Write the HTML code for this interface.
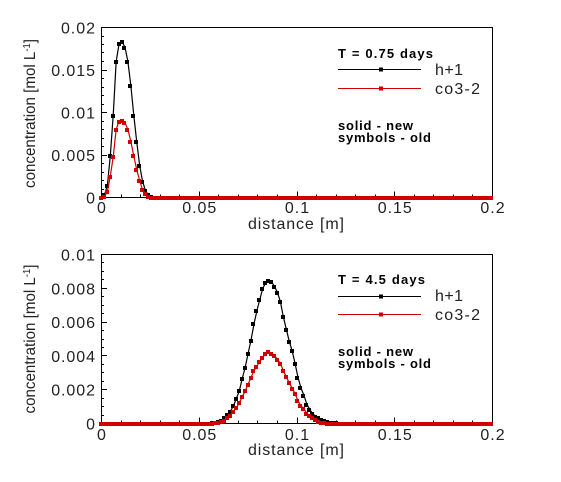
<!DOCTYPE html>
<html>
<head>
<meta charset="utf-8">
<style>
html,body{margin:0;padding:0;background:#fff;}
svg{display:block;}
text{font-family:"Liberation Sans",Arial,sans-serif;fill:#222;}
.bold{font-weight:bold;fill:#000;}
</style>
</head>
<body>
<svg id="chart" width="561" height="482" viewBox="0 0 561 482" xmlns="http://www.w3.org/2000/svg"></svg>
<script>
const distance = [
0,0.0015,0.003,0.0045,0.006,0.0075,0.009,0.0105,0.012,0.0135,
0.015,0.0165,0.018,0.0195,0.021,0.0225,0.024,0.0255,0.027,0.0285,
0.03,0.0315,0.033,0.0345,0.036,0.0375,0.039,0.0405,0.042,0.0435,
0.045,0.0465,0.048,0.0495,0.051,0.0525,0.054,0.0555,0.057,0.0585,
0.06,0.0615,0.063,0.0645,0.066,0.0675,0.069,0.0705,0.072,0.0735,
0.075,0.0765,0.078,0.0795,0.081,0.0825,0.084,0.0855,0.087,0.0885,
0.09,0.0915,0.093,0.0945,0.096,0.0975,0.099,0.1005,0.102,0.1035,
0.105,0.1065,0.108,0.1095,0.111,0.1125,0.114,0.1155,0.117,0.1185,
0.12,0.1215,0.123,0.1245,0.126,0.1275,0.129,0.1305,0.132,0.1335,
0.135,0.1365,0.138,0.1395,0.141,0.1425,0.144,0.1455,0.147,0.1485,
0.15,0.1515,0.153,0.1545,0.156,0.1575,0.159,0.1605,0.162,0.1635,
0.165,0.1665,0.168,0.1695,0.171,0.1725,0.174,0.1755,0.177,0.1785,
0.18,0.1815,0.183,0.1845,0.186,0.1875,0.189,0.1905,0.192,0.1935,
0.195,0.1965,0.198,0.1995];

const earlyH1 = [
0,0.0003,0.0014,0.0049,0.0097,0.016,0.0181,0.0183,0.0177,0.016,
0.0132,0.0097,0.0066,0.0038,0.0019,0.0008,0.0003,0.0001,0,0,
0,0,0,0,0,0,0,0,0,0, 0,0,0,0,0,0,0,0,0,0,
0,0,0,0,0,0,0,0,0,0, 0,0,0,0,0,0,0,0,0,0,
0,0,0,0,0,0,0,0,0,0, 0,0,0,0,0,0,0,0,0,0,
0,0,0,0,0,0,0,0,0,0, 0,0,0,0,0,0,0,0,0,0,
0,0,0,0,0,0,0,0,0,0, 0,0,0,0,0,0,0,0,0,0,
0,0,0,0,0,0,0,0,0,0, 0,0,0,0];

const earlyCo3 = [
0,0.0001,0.0007,0.0025,0.0048,0.008,0.009,0.0091,0.0088,0.008,
0.0066,0.0049,0.0033,0.002,0.0009,0.0005,0.0001,0,0,0,
0,0,0,0,0,0,0,0,0,0, 0,0,0,0,0,0,0,0,0,0,
0,0,0,0,0,0,0,0,0,0, 0,0,0,0,0,0,0,0,0,0,
0,0,0,0,0,0,0,0,0,0, 0,0,0,0,0,0,0,0,0,0,
0,0,0,0,0,0,0,0,0,0, 0,0,0,0,0,0,0,0,0,0,
0,0,0,0,0,0,0,0,0,0, 0,0,0,0,0,0,0,0,0,0,
0,0,0,0,0,0,0,0,0,0, 0,0,0,0];

const lateH1 = [
0,0,0,0,0,0,0,0,0,0, 0,0,0,0,0,0,0,0,0,0, 0,0,0,0,0,0,0,0,0,0,
0,0,0,0,0,0,0.00002,0.00002,0.00004,0.00006,
0.00012,0.0002,0.00034,0.00053,0.00073,0.00105,0.00148,0.00194,0.00267,0.00332,
0.00415,0.00494,0.00589,0.00668,0.00735,0.008,0.00833,0.00845,0.00839,0.0081,
0.00776,0.00721,0.00632,0.00559,0.00488,0.00431,0.00356,0.00273,0.00211,0.00168,
0.00115,0.00083,0.00059,0.00043,0.00034,0.00026,0.00016,0.00012,0.00008,0.00006,
0.00004,0.00002,0,0,0,0,0,0,0,0,
0,0,0,0,0,0,0,0,0,0, 0,0,0,0,0,0,0,0,0,0,
0,0,0,0,0,0,0,0,0,0, 0,0,0,0,0,0,0,0,0,0,
0,0,0,0];

const lateCo3 = [
0,0,0,0,0,0,0,0,0,0, 0,0,0,0,0,0,0,0,0,0, 0,0,0,0,0,0,0,0,0,0,
0,0,0,0,0,0,0,0,0,0.00004,
0.00006,0.00012,0.0002,0.00036,0.00049,0.00073,0.00093,0.00123,0.00158,0.00194,
0.00233,0.00273,0.00312,0.0034,0.00367,0.00391,0.00413,0.00425,0.00417,0.00403,
0.00379,0.00356,0.00312,0.00277,0.00241,0.00209,0.00178,0.00134,0.00105,0.00087,
0.00061,0.00045,0.00034,0.00022,0.00012,0.00006,0.00004,0.00002,0,0,
0,0,0,0,0,0,0,0,0,0,
0,0,0,0,0,0,0,0,0,0, 0,0,0,0,0,0,0,0,0,0,
0,0,0,0,0,0,0,0,0,0, 0,0,0,0,0,0,0,0,0,0,
0,0,0,0];

const xTicks = [0, 0.05, 0.1, 0.15, 0.2];
const xTickLabels = ["0", "0.05", "0.1", "0.15", "0.2"];
const xMinorTicks = [0.01,0.02,0.03,0.04,0.06,0.07,0.08,0.09,0.11,0.12,0.13,0.14,0.16,0.17,0.18,0.19];
const earlyYTicks = [0, 0.005, 0.01, 0.015, 0.02];
const earlyYTickLabels = ["0", "0.005", "0.01", "0.015", "0.02"];
const earlyYMinor = [0.001,0.002,0.003,0.004,0.006,0.007,0.008,0.009,0.011,0.012,0.013,0.014,0.016,0.017,0.018,0.019];
const lateYTicks = [0, 0.002, 0.004, 0.006, 0.008, 0.01];
const lateYTickLabels = ["0", "0.002", "0.004", "0.006", "0.008", "0.01"];
const lateYMinor = [0.0005,0.001,0.0015,0.0025,0.003,0.0035,0.0045,0.005,0.0055,0.0065,0.007,0.0075,0.0085,0.009,0.0095];

const svg = document.getElementById('chart');
const NS = 'http://www.w3.org/2000/svg';

function make(tag, attrs, parent, txt) {
  const el = document.createElementNS(NS, tag);
  for (const k in attrs) el.setAttribute(k, attrs[k]);
  if (txt !== undefined) el.textContent = txt;
  parent.appendChild(el);
  return el;
}

function tickText(s, attrs, parent) {
  const a = Object.assign({'font-size': 16}, attrs);
  if (s.length > 1) {
    a.textLength = ((s.length - 2) * 0.556 + 0.556 + 0.278) * 17.5;
    a.lengthAdjust = 'spacing';
  }
  return make('text', a, parent, s);
}

function panel(cfg) {
  const g = make('g', {}, svg);
  
  
  const X = v => 101.5 + v / 0.2 * 391;
  const Y = v => cfg.y0 - v / cfg.yMax * (cfg.y0 - cfg.yTop);
  const crisp = {'shape-rendering': 'crispEdges', stroke: '#000', 'stroke-width': 1};

  const frame = make('rect', Object.assign({x: 101.5, y: cfg.yTop, width: 391, height: cfg.y0 - cfg.yTop, fill: 'none'}, crisp), g);
  
  

  xMinorTicks.forEach(v => {
    const t = make('line', Object.assign({x1: Math.floor(X(v)) + .5, x2: Math.floor(X(v)) + .5, y1: cfg.y0, y2: cfg.y0 - 3}, crisp), g);
    
    
  });
  xTicks.forEach((v, i) => {
    const t = make('line', Object.assign({x1: Math.floor(X(v)) + .5, x2: Math.floor(X(v)) + .5, y1: cfg.y0, y2: cfg.y0 - 6}, crisp), g);
    
    
    const l = tickText(xTickLabels[i], {x: X(v), y: cfg.xLabelY, 'text-anchor': 'middle'}, g);
    
    
  });
  cfg.yMinor.forEach(v => {
    const t = make('line', Object.assign({x1: 101, x2: 104, y1: Math.floor(Y(v)) + .5, y2: Math.floor(Y(v)) + .5}, crisp), g);
    
    
  });
  cfg.yTicks.forEach((v, i) => {
    const t = make('line', Object.assign({x1: 101, x2: 107, y1: Math.floor(Y(v)) + .5, y2: Math.floor(Y(v)) + .5}, crisp), g);
    
    
    const l = tickText(cfg.yLabels[i], {x: 95, y: Y(v) + 6, 'text-anchor': 'end'}, g);
    
    
  });

  const xt = make('text', {x: 296, y: cfg.xTitleY, 'text-anchor': 'middle', 'font-size': 16, textLength: 96, lengthAdjust: 'spacing'}, g, 'distance [m]');
  
  

  const yt = make('text', {transform: 'translate(35 ' + cfg.yTitleMid + ') rotate(-90)', 'text-anchor': 'middle', 'font-size': 16, textLength: 149, lengthAdjust: 'spacingAndGlyphs'}, g);
  
  
  make('tspan', {}, yt, 'concentration [mol L');
  make('tspan', {dy: -5, 'font-size': 10}, yt, '-1');
  make('tspan', {dy: 5}, yt, ']');

  [[cfg.h1, '#000', 'h1'], [cfg.co3, '#d00000', 'co3']].forEach(s => {
    const sg = make('g', {}, g);
    
    
    const pts = distance.map((d, i) => X(d).toFixed(2) + ',' + Y(s[0][i]).toFixed(2)).join(' ');
    const line = make('polyline', {points: pts, fill: 'none', stroke: s[1], 'stroke-width': 1.2}, sg);
    
    
    distance.forEach((d, i) => {
      const m = make('rect', {x: Math.floor(X(d)) - 2, y: Math.floor(Y(s[0][i])) - 1, width: 4, height: 4, fill: s[1], 'shape-rendering': 'crispEdges'}, sg);
      
      
    });
  });

  const dy = cfg.legendDy;
  const lg = make('g', {}, g);
  
  
  const t1 = make('text', {x: 338, y: 58 + dy - cfg.timeUp, 'font-size': 13, class: 'bold', textLength: cfg.timeWidth, lengthAdjust: 'spacing'}, lg, cfg.time);
  
  
  [['h+1', '#000', cfg.h1LineY, 75, 28], ['co3-2', '#d00000', 88.5 + dy, 94, 45]].forEach(e => {
    const eg = make('g', {}, lg);
    
    
    make('line', {x1: 338, x2: 421, y1: e[2], y2: e[2], stroke: e[1], 'stroke-width': 1, 'shape-rendering': 'crispEdges'}, eg);
    make('rect', {x: 379, y: e[2] - 2, width: 4, height: 4, fill: e[1], 'shape-rendering': 'crispEdges'}, eg);
    make('text', {x: 435, y: e[3] + dy, 'font-size': 16, textLength: e[4], lengthAdjust: 'spacing'}, eg, e[0]);
  });
  const n1 = make('text', {x: 338, y: 130 + dy, 'font-size': 13, class: 'bold', textLength: 75, lengthAdjust: 'spacing'}, lg, 'solid - new');
  
  
  const n2 = make('text', {x: 338, y: 142 + dy, 'font-size': 13, class: 'bold', textLength: 93, lengthAdjust: 'spacing'}, lg, 'symbols - old');
  
  
}

panel({name: 'chart-early', yTop: 27.5, y0: 197.5, yMax: 0.02, h1: earlyH1, co3: earlyCo3,
  yTicks: earlyYTicks, yLabels: earlyYTickLabels, yMinor: earlyYMinor,
  xLabelY: 213, xTitleY: 229, yTitleMid: 113.5, legendDy: 0, h1LineY: 69.5, timeUp: 0, timeWidth: 95, time: 'T = 0.75 days'});
panel({name: 'chart-late', yTop: 254.5, y0: 423.5, yMax: 0.01, h1: lateH1, co3: lateCo3,
  yTicks: lateYTicks, yLabels: lateYTickLabels, yMinor: lateYMinor,
  xLabelY: 440, xTitleY: 455, yTitleMid: 339, legendDy: 226, h1LineY: 296.5, timeUp: 0, timeWidth: 87, time: 'T = 4.5 days'});
</script>
</body>
</html>
